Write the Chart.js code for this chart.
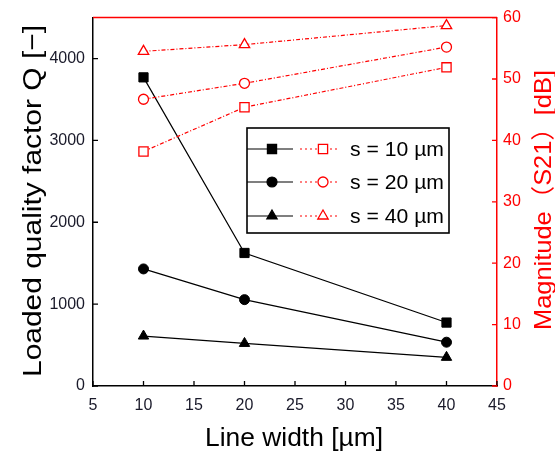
<!DOCTYPE html>
<html>
<head>
<meta charset="utf-8">
<script src="https://cdn.jsdelivr.net/npm/chart.js@4/dist/chart.umd.min.js"></script>
<style>
  html, body { margin: 0; background: #fff; }
</style>
</head>
<body>
<canvas id="chart" width="555" height="452"></canvas>
<script>
// line width (um) on the x axis
const widths = [10, 20, 40];
const xTicks = [5, 10, 15, 20, 25, 30, 35, 40, 45];
const qTicks = [0, 1000, 2000, 3000, 4000];
const magTicks = [0, 10, 20, 30, 40, 50, 60];
const spacingLabels = ['s = 10 µm', 's = 20 µm', 's = 40 µm'];

// loaded Q (left axis)
const qS10 = [3770, 1625, 775];
const qS20 = [1430, 1055, 535];
const qS40 = [610, 520, 350];

// |S21| magnitude in dB (right axis)
const magS10 = [38.2, 45.4, 51.9];
const magS20 = [46.7, 49.3, 55.2];
const magS40 = [54.5, 55.6, 58.7];

const RED = '#ff0000';
const TICK_FONT = { family: "'Liberation Sans', Arial, sans-serif", size: 16 };
const markers = [
  { style: 'rect', r: 6.5 },
  { style: 'circle', r: 5 },
  { style: 'triangle', r: 6 },
];

const toPoints = (ys) => ys.map((y, i) => ({ x: widths[i], y }));
const plain = (v) => String(v);

const qSeries = [qS10, qS20, qS40];
const magSeries = [magS10, magS20, magS40];

const datasets = [];
magSeries.forEach((ys, i) => {
  datasets.push({
    label: spacingLabels[i] + ' mag',
    data: toPoints(ys),
    yAxisID: 'yM',
    borderColor: RED,
    borderWidth: 1.2,
    borderDash: [4, 2, 1, 2],
    pointStyle: markers[i].style,
    pointRadius: markers[i].r,
    pointBackgroundColor: '#fff',
    pointBorderColor: RED,
    pointBorderWidth: 1.3,
    fill: false,
  });
});
qSeries.forEach((ys, i) => {
  datasets.push({
    label: spacingLabels[i] + ' Q',
    data: toPoints(ys),
    yAxisID: 'yQ',
    borderColor: '#000',
    borderWidth: 1.2,
    pointStyle: markers[i].style,
    pointRadius: markers[i].r,
    pointBackgroundColor: '#000',
    pointBorderColor: '#000',
    pointBorderWidth: 1,
    fill: false,
  });
});

// stretch/squeeze text along its direction so it fills a given length
function fitText(ctx, text, x, y, rot, font, color, len) {
  ctx.save();
  ctx.font = font;
  ctx.fillStyle = color;
  ctx.textAlign = 'center';
  ctx.textBaseline = 'alphabetic';
  const w = ctx.measureText(text).width;
  ctx.translate(x, y);
  ctx.rotate(rot);
  ctx.scale(len / w, 1);
  ctx.fillText(text, 0, 0);
  ctx.restore();
}

const framePlugin = {
  id: 'frame',
  afterDraw(chart) {
    const { ctx, chartArea: a, scales } = chart;
    ctx.save();
    // top border (red like the right axis)
    ctx.strokeStyle = RED;
    ctx.lineWidth = 1.5;
    ctx.beginPath();
    ctx.moveTo(a.left, a.top);
    ctx.lineTo(a.right, a.top);
    ctx.stroke();

    // inward tick marks
    const T = 5;
    ctx.lineWidth = 1.3;
    ctx.strokeStyle = '#000';
    ctx.beginPath();
    xTicks.forEach((v) => {
      const px = scales.x.getPixelForValue(v);
      ctx.moveTo(px, a.bottom);
      ctx.lineTo(px, a.bottom - T);
    });
    qTicks.forEach((v) => {
      const py = scales.yQ.getPixelForValue(v);
      ctx.moveTo(a.left, py);
      ctx.lineTo(a.left + T, py);
    });
    ctx.stroke();
    ctx.strokeStyle = RED;
    ctx.beginPath();
    magTicks.forEach((v) => {
      const py = scales.yM.getPixelForValue(v);
      ctx.moveTo(a.right, py);
      ctx.lineTo(a.right - T, py);
    });
    ctx.stroke();
    ctx.restore();

    // axis titles
    const titleFont = "26px 'Liberation Sans', Arial, 'Noto Sans CJK JP', sans-serif";
    fitText(ctx, 'Line width [µm]', 294, 446, 0, titleFont, '#000', 178);
    fitText(ctx, 'Loaded quality factor Q [−]', 41, 201, -Math.PI / 2, titleFont, '#000', 352);
    fitText(ctx, 'Magnitude（S21）[dB]', 551, 200, -Math.PI / 2,
      "24px 'Liberation Sans', Arial, 'Noto Sans CJK JP', sans-serif", RED, 260);

    // legend box
    const box = { left: 247, top: 128, right: 449, bottom: 233 };
    const rows = [149, 182, 216];
    ctx.save();
    ctx.fillStyle = '#fff';
    ctx.fillRect(box.left, box.top, box.right - box.left, box.bottom - box.top);
    ctx.strokeStyle = '#000';
    ctx.lineWidth = 1.6;
    ctx.strokeRect(box.left, box.top, box.right - box.left, box.bottom - box.top);
    rows.forEach((y, i) => {
      const m = markers[i];
      ctx.setLineDash([]);
      ctx.strokeStyle = '#000';
      ctx.lineWidth = 1.2;
      ctx.beginPath();
      ctx.moveTo(box.left, y);
      ctx.lineTo(293, y);
      ctx.stroke();
      ctx.fillStyle = '#000';
      Chart.helpers.drawPoint(ctx, { pointStyle: m.style, radius: m.r, borderWidth: 1, rotation: 0 }, 272, y);

      ctx.strokeStyle = RED;
      ctx.setLineDash([2, 3]);
      ctx.beginPath();
      ctx.moveTo(300, y);
      ctx.lineTo(340, y);
      ctx.stroke();
      ctx.setLineDash([]);
      ctx.fillStyle = '#fff';
      ctx.lineWidth = 1.3;
      Chart.helpers.drawPoint(ctx, { pointStyle: m.style, radius: m.r, borderWidth: 1.3, rotation: 0 }, 323, y);

      ctx.save();
      ctx.font = "20px 'Liberation Sans', Arial, sans-serif";
      ctx.fillStyle = '#000';
      ctx.textBaseline = 'middle';
      const w = ctx.measureText(spacingLabels[i]).width;
      ctx.translate(350, y + 1);
      ctx.scale(94 / w, 1);
      ctx.fillText(spacingLabels[i], 0, 0);
      ctx.restore();
    });
    ctx.restore();
  },
};

new Chart(document.getElementById('chart'), {
  type: 'line',
  data: { datasets },
  plugins: [framePlugin],
  options: {
    responsive: false,
    devicePixelRatio: 1,
    animation: false,
    layout: { padding: { top: 15, left: 0, right: 0, bottom: 0 } },
    plugins: { legend: { display: false }, tooltip: { enabled: false } },
    elements: { line: { tension: 0 } },
    scales: {
      x: {
        type: 'linear',
        min: 5,
        max: 45,
        afterBuildTicks: (s) => { s.ticks = xTicks.map((v) => ({ value: v })); },
        afterFit: (s) => { s.height = 66; },
        grid: { display: false, drawTicks: false },
        border: { color: '#000', width: 1.5 },
        ticks: { color: '#1a1a2a', font: TICK_FONT, padding: 10, maxRotation: 0, callback: plain },
      },
      yQ: {
        type: 'linear',
        position: 'left',
        min: 0,
        max: 4500,
        afterBuildTicks: (s) => { s.ticks = qTicks.map((v) => ({ value: v })); },
        afterFit: (s) => { s.width = 93; },
        grid: { display: false, drawTicks: false },
        border: { color: '#000', width: 1.5 },
        ticks: { color: '#1a1a2a', font: TICK_FONT, padding: 8, callback: plain },
      },
      yM: {
        type: 'linear',
        position: 'right',
        min: 0,
        max: 60,
        afterBuildTicks: (s) => { s.ticks = magTicks.map((v) => ({ value: v })); },
        afterFit: (s) => { s.width = 58; },
        grid: { display: false, drawTicks: false },
        border: { color: RED, width: 1.5 },
        ticks: { color: RED, font: TICK_FONT, padding: 6, callback: plain },
      },
    },
  },
});
</script>
</body>
</html>
